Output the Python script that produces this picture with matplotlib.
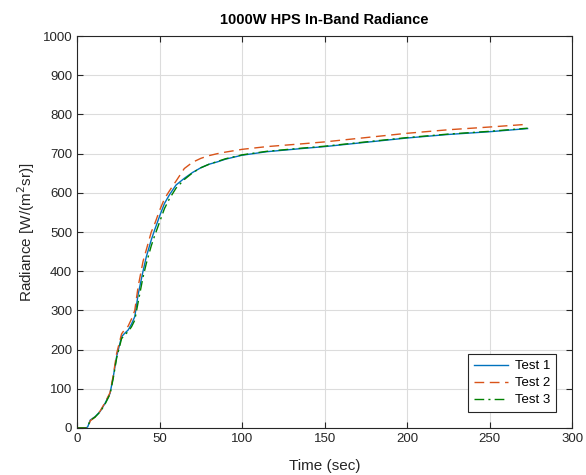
import numpy as np
import matplotlib.pyplot as plt

plt.rcParams['font.family'] = ['Liberation Sans', 'DejaVu Sans']

# time (sec)
t = [0, 5.5, 6.5, 8, 11, 14, 17, 20, 22, 24, 27, 29, 31, 33, 35, 37, 40, 42, 45, 47,
     50, 53, 56, 60, 65, 70, 75, 80, 85, 90, 100, 115, 136, 150, 175, 200, 225, 250, 273]

test1 = [0, 0, 3, 20, 29, 42, 63, 88, 131, 182, 233, 242, 250, 265, 284, 340, 400, 437, 480, 505,
         540, 573, 595, 620, 637, 652, 664, 673, 679, 686, 696, 705, 713, 718, 729, 740, 749, 756, 764]
test2 = [0, 0, 0, 18, 28, 43, 65, 90, 135, 190, 240, 252, 260, 278, 300, 360, 425, 455, 500, 520,
         555, 585, 605, 630, 662, 678, 688, 695, 700, 704, 711, 718, 725, 730, 741, 752, 761, 768, 775]
test3 = [0, 0, 3, 19, 28, 41, 61, 86, 128, 178, 228, 238, 246, 258, 275, 320, 385, 420, 465, 490,
         525, 560, 585, 612, 634, 651, 664, 673, 680, 687, 697, 706, 714, 719, 730, 741, 750, 757, 765]

c1 = (0, 0.447, 0.741)
c2 = (0.85, 0.325, 0.098)
c3 = (0, 0.5, 0)

fig = plt.figure(figsize=(5.86, 4.75), dpi=100)
ax = fig.add_axes([0.1314, 0.099, 0.845, 0.825])

ax.plot(t, test1, color=c1, lw=1.0, label='Test 1')
ax.plot(t, test2, color=c2, lw=1.0, ls=(0, (7, 4)), label='Test 2')
ax.plot(t, test3, color=c3, lw=1.0, ls=(0, (7, 3, 1.5, 3)), label='Test 3')

ax.set_xlim(0, 300)
ax.set_ylim(0, 1000)
ax.set_xticks(np.arange(0, 301, 50))
ax.set_yticks(np.arange(0, 1001, 100))
ax.grid(True, color='#dcdcdc', lw=0.8)
ax.set_axisbelow(True)
ax.tick_params(direction='in', top=True, right=True, labelsize=9.5, colors='#262626', length=4)
for s in ax.spines.values():
    s.set_color('#262626')
    s.set_linewidth(0.8)

ax.set_xlabel('Time (sec)', fontsize=11, color='#262626', labelpad=10)
ax.set_ylabel('Radiance [W/(m$^2$sr)]', fontsize=11, color='#262626')
ax.set_title('1000W HPS In-Band Radiance', fontsize=10.5, fontweight='bold', pad=9)

leg = ax.legend(loc='lower right', fontsize=9.5, fancybox=False, framealpha=1,
                edgecolor='#262626', handlelength=2.6, handletextpad=0.5,
                borderpad=0.45, labelspacing=0.35, borderaxespad=1.2)
leg.get_frame().set_linewidth(0.8)

fig.savefig('out.png', dpi=100)
